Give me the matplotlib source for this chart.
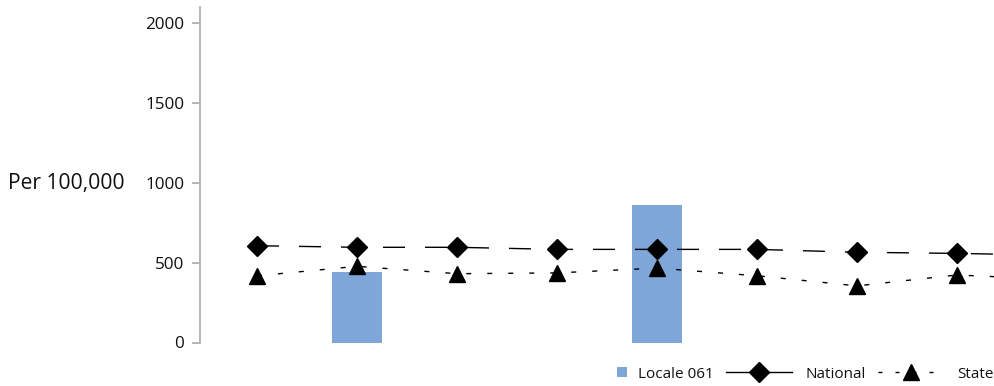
import numpy as np
import matplotlib
matplotlib.use("Agg")
import matplotlib.pyplot as plt
from matplotlib.lines import Line2D
from matplotlib.patches import Rectangle, Patch
from matplotlib.legend_handler import HandlerPatch

plt.rcParams['font.family'] = ['Open Sans', 'DejaVu Sans']

# ---- data ----
periods = list(range(9))
locale_061 = [np.nan, 439, np.nan, np.nan, 859, np.nan, np.nan, np.nan, np.nan]
national = [605, 595, 595, 582, 582, 582, 564, 557, 545]
state = [417, 476, 430, 435, 465, 417, 354, 422, 394]
y_ticks = [0, 500, 1000, 1500, 2000]
series_names = ["Locale 061", "National", "State"]
y_label = "Per 100,000"

W, H, DPI = 995, 386, 100
fig = plt.figure(figsize=(W / DPI, H / DPI), dpi=DPI)
ax = fig.add_axes([200 / W, 43.5 / H, 795 / W, 335.5 / H])

bar_color = '#7ea6d8'
text_color = '#111111'
x = np.array(periods, dtype=float)
ax.bar(x, locale_061, width=0.5, color=bar_color, zorder=1)

px = 72.0 / DPI  # points per pixel
ax.plot(x, national, color='black', lw=1.0, marker='D', markersize=10.2,
        dashes=(22 * px, 20 * px), zorder=3)
ax.plot(x, state, color='black', lw=1.0, marker='^', markersize=11.5,
        dashes=(5 * px, 16 * px), zorder=3)

ax.set_xlim(-0.57, 7.38)
ax.set_ylim(0, 2097)
ax.set_yticks(y_ticks)
ax.set_yticklabels([str(v) for v in y_ticks], fontsize=12.3, color=text_color)
ax.set_xticks([])
for s in ['top', 'right', 'bottom']:
    ax.spines[s].set_visible(False)
ax.spines['left'].set_color('#b0b0b0')
ax.spines['left'].set_linewidth(1.3)
ax.tick_params(axis='y', direction='out', length=5.5, width=1.3, color='#b0b0b0', pad=6)
ax.patch.set_alpha(0)

fig.text(8 / W, 1 - 184 / H, y_label, fontsize=15.2, va='center', ha='left', color=text_color)


def square_patch(legend, orig_handle, xdescent, ydescent, width, height, fontsize):
    s = 7.2
    return Rectangle((-xdescent + width - s + 2, -ydescent + (height - s) / 2), s, s,
                     facecolor=bar_color, edgecolor='none')


h_loc = Patch(facecolor=bar_color)
h_nat = Line2D([], [], color='black', lw=1.0, marker='D', markersize=10.2)
h_sta = Line2D([], [], color='black', lw=1.0, marker='^', markersize=11.5,
               dashes=(4 * px, 13 * px))
leg = fig.legend([h_loc, h_nat, h_sta], series_names, ncol=3, frameon=False,
                 loc='center right', bbox_to_anchor=(994 / W, 12 / H),
                 fontsize=11, handlelength=4.3, handletextpad=0.9,
                 columnspacing=0.8, borderpad=0, borderaxespad=0,
                 handler_map={Patch: HandlerPatch(patch_func=square_patch)})
for t in leg.get_texts():
    t.set_color(text_color)

fig.savefig('out.png', dpi=DPI)
